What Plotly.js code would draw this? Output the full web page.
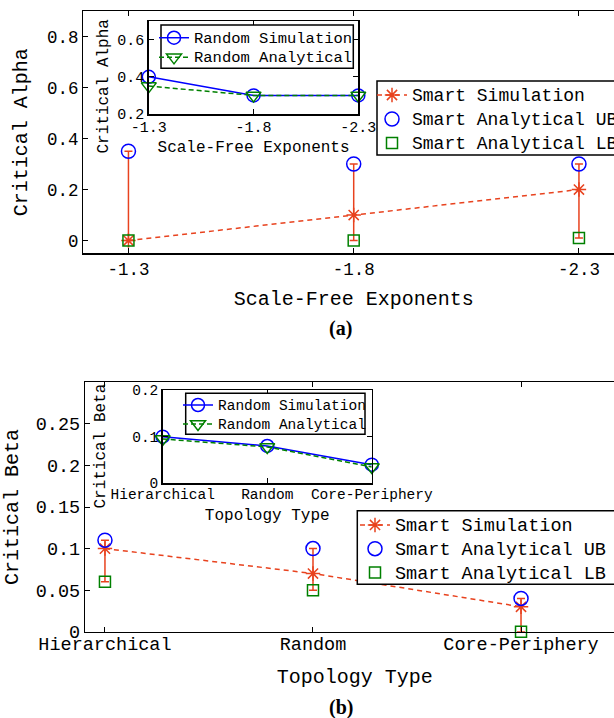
<!DOCTYPE html>
<html>
<head>
<meta charset="utf-8">
<script src="https://cdn.plot.ly/plotly-3.0.1.min.js"></script>
<style>
  html, body { margin: 0; padding: 0; overflow: hidden; background: #fff; }
  #chart { width: 650px; height: 718px; }
</style>
</head>
<body>
<div id="chart"></div>
<script>
// ---------- data: panel (a) ----------
const alphaExponents = ['-1.3', '-1.8', '-2.3'];
const smartSimAlpha = [0, 0.1, 0.2];
const smartUBAlpha = [0.35, 0.3, 0.3];
const smartLBAlpha = [0, 0, 0.01];
const randomSimAlpha = [0.4, 0.3, 0.3];
const randomAnaAlpha = [0.35, 0.3, 0.3];

// ---------- data: panel (b) ----------
const topologies = ['Hierarchical', 'Random', 'Core-Periphery'];
const smartSimBeta = [0.1, 0.07, 0.03];
const smartUBBeta = [0.11, 0.1, 0.04];
const smartLBBeta = [0.06, 0.05, 0];
const randomSimBeta = [0.1, 0.08, 0.04];
const randomAnaBeta = [0.095, 0.078, 0.035];

const alphaTicks = [0, 0.2, 0.4, 0.6, 0.8];
const alphaInsetTicks = [0.2, 0.4, 0.6];
const betaTicks = [0, 0.05, 0.1, 0.15, 0.2, 0.25];
const betaInsetTicks = [0, 0.1, 0.2];

// ---------- styling ----------
const W = 650, H = 718;
const RED = 'rgb(232,66,30)', BLUE = '#0000ff', GREEN = '#008000';
const MONO = 'Liberation Mono, Courier New, monospace';
const SERIF = 'Liberation Serif, Times New Roman, serif';
const px = v => v / W;
const py = v => 1 - v / H;
const sized = (txt, s) => '<span style="font-size:' + s + 'px">' + txt + '</span>';

function upper(ub, sim) { return ub.map((u, i) => u - sim[i]); }
function lower(sim, lb) { return sim.map((s, i) => s - lb[i]); }

function smartTraces(x, sim, ub, lb, xa, ya, lg, fs) {
  return [
    {
      x: x, y: sim, xaxis: xa, yaxis: ya, legend: lg, name: sized('Smart Simulation', fs),
      type: 'scatter', mode: 'lines+markers',
      line: { color: RED, width: 1.5, dash: '5px,4px' },
      marker: { symbol: 'asterisk-open', size: 12, color: RED, line: { color: RED, width: 1.5 } },
      error_y: { type: 'data', symmetric: false, array: upper(ub, sim), arrayminus: lower(sim, lb),
                 color: RED, thickness: 1.5, width: 4 },
      cliponaxis: false
    },
    {
      x: x, y: ub, xaxis: xa, yaxis: ya, legend: lg, name: sized('Smart Analytical UB', fs),
      type: 'scatter', mode: 'markers',
      marker: { symbol: 'circle-open', size: 14, color: BLUE, line: { color: BLUE, width: 1.5 } },
      cliponaxis: false
    },
    {
      x: x, y: lb, xaxis: xa, yaxis: ya, legend: lg, name: sized('Smart Analytical LB', fs),
      type: 'scatter', mode: 'markers',
      marker: { symbol: 'square-open', size: 11, color: GREEN, line: { color: GREEN, width: 1.5 } },
      cliponaxis: false
    }
  ];
}

function randomTraces(x, sim, ana, xa, ya, lg, fs) {
  return [
    {
      x: x, y: sim, xaxis: xa, yaxis: ya, legend: lg, name: sized('Random Simulation', fs),
      type: 'scatter', mode: 'lines+markers',
      line: { color: BLUE, width: 1.5 },
      marker: { symbol: 'circle-open', size: 13, color: BLUE, line: { color: BLUE, width: 1.5 } },
      cliponaxis: false
    },
    {
      x: x, y: ana, xaxis: xa, yaxis: ya, legend: lg, name: sized('Random Analytical', fs),
      type: 'scatter', mode: 'lines+markers',
      line: { color: GREEN, width: 1.5, dash: '5px,3px' },
      marker: { symbol: 'triangle-down-open', size: 13, color: GREEN, line: { color: GREEN, width: 1.5 } },
      cliponaxis: false
    }
  ];
}

const data = [].concat(
  smartTraces(alphaExponents, smartSimAlpha, smartUBAlpha, smartLBAlpha, 'x', 'y', 'legend', 18),
  randomTraces(alphaExponents, randomSimAlpha, randomAnaAlpha, 'x2', 'y2', 'legend2', 15.5),
  smartTraces(topologies, smartSimBeta, smartUBBeta, smartLBBeta, 'x3', 'y3', 'legend3', 18.5),
  randomTraces(topologies, randomSimBeta, randomAnaBeta, 'x4', 'y4', 'legend4', 14.5)
);

function axisBase(o) {
  return Object.assign({
    showline: true, mirror: 'ticks', linecolor: 'black', linewidth: 1.5,
    ticks: 'inside', ticklen: 5, tickwidth: 1, tickcolor: 'black',
    showgrid: false, zeroline: false, fixedrange: true, automargin: false
  }, o);
}

// legend text is placed by the library; the framed box is a shape beneath it
function legendBase(x, y, size) {
  return {
    x: x, y: y, xref: 'paper', yref: 'paper', xanchor: 'left', yanchor: 'top',
    bgcolor: 'rgba(0,0,0,0)', borderwidth: 0,
    font: { family: MONO, size: size, color: 'black' },
    itemwidth: 30, tracegroupgap: 0
  };
}

function box(x0, y0, x1, y1) {
  return { type: 'rect', xref: 'paper', yref: 'paper', layer: 'above',
           x0: px(x0), x1: px(x1), y0: py(y1), y1: py(y0),
           fillcolor: 'white', line: { color: 'black', width: 1.5 } };
}

const layout = {
  width: W, height: H,
  margin: { l: 0, r: 0, t: 0, b: 0 },
  paper_bgcolor: 'white', plot_bgcolor: 'rgba(0,0,0,0)',
  showlegend: true,
  // panel (a) main
  xaxis: axisBase({
    domain: [px(83.4), px(624)], anchor: 'y', type: 'category', range: [-0.2, 2.2],
    tickfont: { family: MONO, size: 17.5, color: 'black' }, ticklabelstandoff: -1,
    title: { text: 'Scale-Free Exponents', font: { family: MONO, size: 20, color: 'black' }, standoff: 12 }
  }),
  yaxis: axisBase({
    domain: [py(253.3), py(11)], anchor: 'x', range: [-0.05, 0.9], tickvals: alphaTicks,
    tickfont: { family: MONO, size: 17.5, color: 'black' },
    title: { text: 'Critical Alpha', font: { family: MONO, size: 20, color: 'black' }, standoff: 14 }
  }),
  // panel (a) inset
  xaxis2: axisBase({
    domain: [px(148.8), px(358.3)], anchor: 'y2', type: 'category', range: [0, 2],
    tickfont: { family: MONO, size: 15, color: 'black' }, ticklabelstandoff: -2,
    title: { text: 'Scale-Free Exponents', font: { family: MONO, size: 16, color: 'black' }, standoff: 5 }
  }),
  yaxis2: axisBase({
    domain: [py(114), py(21)], anchor: 'x2', range: [0.2, 0.7], tickvals: alphaInsetTicks,
    tickfont: { family: MONO, size: 15, color: 'black' }
  }),
  // panel (b) main
  xaxis3: axisBase({
    domain: [px(85.4), px(624)], anchor: 'y3', type: 'category', range: [-0.094, 2.495],
    tickfont: { family: MONO, size: 18.5, color: 'black' }, ticklabelstandoff: -5,
    title: { text: 'Topology Type', font: { family: MONO, size: 20, color: 'black' }, standoff: 13 }
  }),
  yaxis3: axisBase({
    domain: [py(631.7), py(382.3)], anchor: 'x3', range: [0, 0.3], tickvals: betaTicks,
    tickfont: { family: MONO, size: 18.5, color: 'black' },
    title: { text: 'Critical Beta', font: { family: MONO, size: 20, color: 'black' }, standoff: 12 }
  }),
  // panel (b) inset
  xaxis4: axisBase({
    domain: [px(162.7), px(371.8)], anchor: 'y4', type: 'category', range: [0, 2],
    tickfont: { family: MONO, size: 14.5, color: 'black' }, ticklabelstandoff: -3,
    title: { text: 'Topology Type', font: { family: MONO, size: 16, color: 'black' }, standoff: 6 }
  }),
  yaxis4: axisBase({
    domain: [py(483.3), py(390)], anchor: 'x4', range: [0, 0.2], tickvals: betaInsetTicks,
    tickfont: { family: MONO, size: 14.5, color: 'black' }
  }),
  legend: legendBase(px(372), py(78), 16.15),
  legend2: legendBase(px(154), py(22.9), 12.8),
  legend3: legendBase(px(355), py(508.1), 15.95),
  legend4: legendBase(px(178), py(390.5), 12.3),
  shapes: [
    box(377, 81, 645, 155),
    box(161, 25, 353.3, 68.3),
    box(357.3, 510.7, 645, 584.3),
    box(185.7, 393.3, 365, 434.3)
  ],
  annotations: [
    { text: 'Critical Alpha', xref: 'paper', yref: 'paper', x: px(104), y: py(86.5),
      xanchor: 'center', yanchor: 'middle', textangle: -90, showarrow: false,
      font: { family: MONO, size: 16, color: 'black' } },
    { text: 'Critical Beta', xref: 'paper', yref: 'paper', x: px(100), y: py(446.5),
      xanchor: 'center', yanchor: 'middle', textangle: -90, showarrow: false,
      font: { family: MONO, size: 16, color: 'black' } },
    { text: '<b>(a)</b>', xref: 'paper', yref: 'paper', x: px(340.5), y: py(328),
      xanchor: 'center', yanchor: 'middle', showarrow: false,
      font: { family: SERIF, size: 20, color: 'black' } },
    { text: '<b>(b)</b>', xref: 'paper', yref: 'paper', x: px(341.5), y: py(707),
      xanchor: 'center', yanchor: 'middle', showarrow: false,
      font: { family: SERIF, size: 20, color: 'black' } }
  ]
};

Plotly.newPlot('chart', data, layout, { displayModeBar: false, staticPlot: true });
</script>
</body>
</html>
